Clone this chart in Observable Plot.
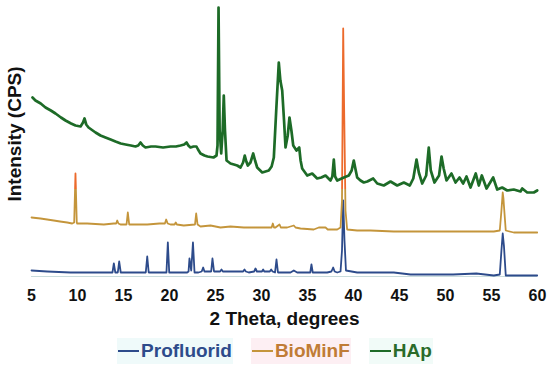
<!DOCTYPE html>
<html>
<head>
<meta charset="utf-8">
<script src="https://cdn.jsdelivr.net/npm/d3@7"></script>
<script src="https://cdn.jsdelivr.net/npm/@observablehq/plot@0.6"></script>
<style>
  html, body { margin: 0; padding: 0; background: #fff; }
  #chart { width: 550px; height: 373px; overflow: hidden; font-family: 'Liberation Sans', Arial, sans-serif; }
  #legend { height: 43px; line-height: 42px; text-align: center; font-weight: bold; font-size: 19px; white-space: nowrap; }
  #legend .item { display: inline-block; margin: 0 9px; padding: 0 1px; line-height: 26px; }
  #legend .sw { display: inline-block; width: 21px; height: 2.5px; background: currentColor; vertical-align: middle; margin-right: 2px; position: relative; top: -1px; }
</style>
</head>
<body>
<div id="chart"></div>
<script>
// Series names and colours
const seriesNames = ["Profluorid", "BioMinF", "HAp"];
const seriesColors = ["#2d4b8b", "#c4953b", "#1d6b27"];
const peakOrange = "#ec6a2c";
const xTicks = [5, 10, 15, 20, 25, 30, 35, 40, 45, 50, 55, 60];

// HAp pattern: [2θ (deg), intensity (offset, arbitrary CPS)]
const hap = [
  [5.11,183],[5.43,180],[6.0,177],[6.52,173],[7.1,170],[7.61,167],[8.2,163],[8.70,160],[9.3,157],[9.78,155],[10.33,154],
  [10.6,158],[10.76,162],[10.95,156],[11.20,153],[11.96,148],[12.5,145],[13.04,143],[13.6,141],[14.13,139],[14.7,137],
  [15.22,136],[15.8,135],[16.30,134],[16.6,135],[16.85,138],[17.1,135],[17.39,133],[18.0,134],[18.48,134],[19.3,133],
  [20.11,134],[20.7,134],[21.20,135],[21.6,136],[21.85,138],[22.05,135],[22.28,133],[22.61,134],[22.93,134],[23.1,131],
  [23.37,127],[23.8,125],[24.13,124],[24.78,123],[25.11,125],[25.22,135],[25.33,273],[25.45,150],[25.62,127],
  [25.78,150],[25.90,185],[26.03,150],[26.20,120],[26.63,117],[27.0,116],[27.36,115],[27.72,113],[28.0,118],[28.18,125],
  [28.35,119],[28.51,115],[28.8,118],[29.10,127],[29.3,120],[29.53,113],[30.08,108],[30.79,110],[31.1,114],[31.34,123],
  [31.6,170],[31.88,218],[32.05,200],[32.25,190],[32.45,160],[32.61,133],[32.85,145],[33.04,163],[33.25,150],[33.45,135],
  [33.8,130],[34.10,133],[34.25,120],[34.42,112],[34.97,105],[35.51,107],[36.05,102],[36.5,103],[36.96,105],[37.50,100],
  [37.7,104],[37.86,121],[38.0,104],[38.23,100],[38.95,103],[39.49,105],[39.8,110],[40.03,120],[40.2,112],[40.40,103],
  [40.76,100],[41.12,98],[41.5,99],[42.14,102],[42.58,97],[43.29,95],[44.02,99],[44.75,95],[45.47,98],[46.12,95],
  [46.5,102],[46.85,121],[47.1,108],[47.47,97],[47.9,105],[48.18,133],[48.4,110],[48.80,98],[49.3,105],[49.57,124],
  [49.8,112],[50.11,100],[50.65,107],[51.09,98],[51.52,103],[51.92,97],[52.28,104],[52.72,93],[53.29,107],[53.62,95],
  [53.95,105],[54.46,92],[55.18,103],[55.62,91],[56.16,93],[56.71,90],[57.42,91],[58.15,89],[58.34,92],[58.88,88],
  [59.60,88],[59.97,90]
];

// BioMinF pattern
const bioMinF = [
  [5.0,63],[5.98,62],[6.7,61],[7.42,60],[8.1,59],[8.88,58],[9.42,57],[9.64,58],[9.78,107],[9.92,58],[9.97,57],
  [11.05,57],[12.86,56],[13.95,57],[14.2,57],[14.32,60],[14.45,57],[14.67,56],[15.33,56],[15.47,68],[15.62,56],
  [17.58,56],[18.91,57],[19.5,57],[19.64,61],[19.8,57],[20.11,56],[20.55,56],[20.68,58],[20.8,56],[21.55,55],
  [22.77,56],[22.90,67],[23.05,56],[23.37,54],[24.46,55],[25.54,53],[26.63,54],[28.08,53],[29.53,53],[31.1,53],
  [31.23,57],[31.36,53],[31.52,53],[31.96,56],[32.1,53],[32.79,53],[33.51,55],[33.7,53],[34.24,52],[35.68,51],
  [36.23,53],[36.96,53],[37.2,51],[38.23,51],[38.59,53],[38.75,80],[38.88,252],[38.97,180],[39.0,160],[39.13,70],
  [39.31,51],[40.40,50],[41.85,50],[44.38,49],[48.01,49],[51.63,49],[55.25,49],[55.90,50],[56.08,70],[56.22,88],
  [56.3,82],[56.35,75],[56.55,50],[57.42,48],[59.97,48]
];

// Profluorid pattern
const profluorid = [
  [5.0,10],[6.71,9],[9.24,8],[11.05,8],[13.59,8],[13.80,8],[13.95,17],[14.11,8],[14.38,8],[14.53,19],[14.70,8],
  [17.21,8],[17.42,8],[17.58,24],[17.74,8],[19.38,8],[19.67,8],[19.82,38],[19.97,8],[21.92,8],[22.07,9],[22.17,22],
  [22.36,10],[22.55,38],[22.72,8],[23.15,8],[23.5,9],[23.66,13],[23.8,9],[24.10,9],[24.53,9],[24.67,22],[24.84,9],
  [25.5,9],[25.65,11],[25.8,9],[26.27,9],[27.72,9],[28.0,9],[28.15,11],[28.3,9],[28.62,8],[29.2,9],[29.35,12],
  [29.5,9],[29.71,9],[30.05,9],[30.18,11],[30.3,9],[30.54,9],[30.9,9],[31.05,11],[31.2,9],[31.47,8],[31.63,21],
  [31.79,8],[33.15,8],[33.51,10],[33.88,8],[35.30,8],[35.43,16],[35.57,8],[37.14,8],[37.6,9],[37.79,13],[37.95,9],
  [38.23,8],[38.59,9],[38.75,30],[38.88,80],[39.02,40],[39.18,10],[40.40,8],[41.85,8],[42.58,8],[44.38,8],[46.20,6],
  [50.82,6],[53.35,7],[55.25,5],[55.90,6],[56.08,30],[56.22,47],[56.35,35],[56.55,5],[57.42,5],[59.97,5]
];

const baseLevel = [4];   // faint baseline under the patterns
const orangeAbove = 92;  // BioMinF spike tops drawn orange above this intensity

const xTitle = "2 Theta, degrees";
const yTitle = "Intensity (CPS)";

const toRows = (arr) => arr.map(([theta, cps]) => ({theta, cps}));

const plot = Plot.plot({
  width: 550,
  height: 330,
  marginLeft: 31,
  marginRight: 13,
  marginTop: 5,
  marginBottom: 50,
  style: {fontFamily: "'Liberation Sans', Arial, sans-serif", fontSize: "16px", fontWeight: "bold", color: "#111", background: "#fff", overflow: "visible"},
  x: {domain: [5, 60], ticks: xTicks, tickSize: 0, tickPadding: 9, label: null},
  y: {domain: [0, 275], axis: null},
  marks: [
    Plot.ruleY(baseLevel, {stroke: "#c9dcdc", strokeWidth: 1}),
    Plot.line(toRows(profluorid), {x: "theta", y: "cps", stroke: seriesColors[0], strokeWidth: 1.8}),
    Plot.line(toRows(bioMinF), {x: "theta", y: "cps", stroke: "url(#bmGrad)", strokeWidth: 1.8}),
    Plot.line(toRows(hap), {x: "theta", y: "cps", stroke: seriesColors[2], strokeWidth: 2.7, strokeLinejoin: "round"}),
    Plot.text([xTitle], {frameAnchor: "bottom", lineAnchor: "middle", textAnchor: "middle", dy: 38, fontSize: 19, fontWeight: "bold", fill: "#111"}),
    Plot.text([yTitle], {frameAnchor: "left", lineAnchor: "middle", textAnchor: "middle", rotate: -90, dx: -17, dy: -9, fontSize: 19, fontWeight: "bold", fill: "#111"})
  ]
});

// gradient for BioMinF: orange above the cut, gold below (positions from the y scale)
const yScale = plot.scale("y");
const yCut = yScale.apply(orangeAbove);
const ns = "http://www.w3.org/2000/svg";
const defs = document.createElementNS(ns, "defs");
const grad = document.createElementNS(ns, "linearGradient");
grad.setAttribute("id", "bmGrad");
grad.setAttribute("gradientUnits", "userSpaceOnUse");
grad.setAttribute("x1", 0); grad.setAttribute("x2", 0);
grad.setAttribute("y1", 0); grad.setAttribute("y2", 330);
const stops = [[0, peakOrange], [yCut / 330, peakOrange], [yCut / 330, seriesColors[1]], [1, seriesColors[1]]];
for (const [o, c] of stops) {
  const s = document.createElementNS(ns, "stop");
  s.setAttribute("offset", o);
  s.setAttribute("stop-color", c);
  grad.appendChild(s);
}
defs.appendChild(grad);
plot.insertBefore(defs, plot.firstChild);

const chart = document.getElementById("chart");
chart.appendChild(plot);

const legend = document.createElement("div");
legend.id = "legend";
const legendBg = ["#effafa", "#fdeff3", "#f1fbf8"];
const legendText = ["#2d4b8b", "#c07c36", "#2a6b2a"];
seriesNames.forEach((name, i) => {
  const item = document.createElement("span");
  item.className = "item";
  item.style.color = legendText[i];
  item.style.background = legendBg[i];
  const sw = document.createElement("span");
  sw.className = "sw";
  sw.style.background = seriesColors[i];
  item.appendChild(sw);
  item.appendChild(document.createTextNode(name));
  legend.appendChild(item);
});
chart.appendChild(legend);
</script>
</body>
</html>
